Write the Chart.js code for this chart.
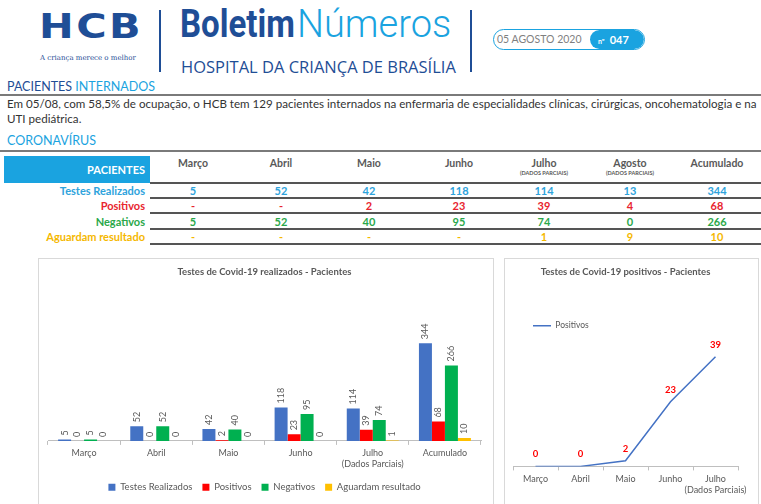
<!DOCTYPE html>
<html lang="pt">
<head>
  <meta charset="UTF-8" />
  <title>Boletim Números HCB</title>
  <script src="https://cdn.jsdelivr.net/npm/chart.js"></script>
  <style>
    body { margin: 0; width: 761px; height: 504px; overflow: hidden; background: #fff; font-family: Lato, 'Open Sans', sans-serif; position: relative; }
    .abs { position: absolute; white-space: nowrap; }
    #logo { left: 39px; top: 6px; font: bold 34px 'DejaVu Sans', sans-serif; color: #1f4e96; letter-spacing: 2px; transform: scaleX(1.22); transform-origin: left; }
    #tagline { left: 40px; top: 54px; font: 7px 'DejaVu Serif', serif; color: #1f4e96; }
    .vline { width: 2px; height: 62px; top: 10px; background: #1f4e96; }
    #boletim { left: 180px; top: 2px; font: bold 38px Roboto, sans-serif; color: #1f4e96; transform: scaleX(0.87); transform-origin: left; }
    #numeros { left: 297px; top: 2px; font: 300 38px Roboto, sans-serif; color: #1aa3e0; }
    #hospital { left: 181px; top: 55px; font: 16.5px 'Open Sans', sans-serif; color: #1f4e96; }
    #pill { left: 493px; top: 29px; width: 150px; height: 19px; border: 1px solid #1aa3e0; border-radius: 11px; overflow: hidden; }
    #pill .date { position: absolute; left: 3px; top: 3px; font: 10.5px Lato, sans-serif; color: #7f7f7f; }
    #pill .num { position: absolute; left: 96px; top: 0; width: 54px; height: 19px; background: #1aa3e0; border-radius: 10px; color: #fff; font: bold 11px Lato, sans-serif; line-height: 19px; text-indent: 8px; }
    #pill .num small { font-size: 7px; margin-right: 5px; }
    .section { left: 7px; font: 12.5px Lato, sans-serif; color: #1aa3e0; }
    .section b { color: #1f4e96; font-weight: normal; }
    .rule { left: 0; width: 761px; height: 2px; background: #7a7a7a; }
    .para { left: 7px; font: 11.6px Lato, sans-serif; color: #333; }
    #thead { left: 4px; top: 156px; width: 146px; height: 27px; background: #1aa3e0; color: #fff; font: bold 11px Lato, sans-serif; text-align: right; line-height: 27px; }
    #thead span { margin-right: 5px; }
    .colhead { top: 157px; font: bold 10.5px Lato, sans-serif; color: #595959; text-align: center; width: 86px; line-height: 13px; }
    .colhead small { display: block; font-size: 5.5px; line-height: 7px; }
    .rowlabel { left: 4px; width: 141px; text-align: right; font: bold 11px Lato, sans-serif; }
    .cell { width: 86px; text-align: center; font: bold 11px Lato, sans-serif; }
    .tline { left: 150px; width: 611px; height: 2px; background: #555; }
    .box { border: 1px solid #d9d9d9; background: #fff; }
  </style>
</head>
<body>
  <div class="abs" id="logo">HCB</div>
  <div class="abs" id="tagline">A criança merece o melhor</div>
  <div class="abs vline" style="left:159px"></div>
  <div class="abs" id="boletim">Boletim</div>
  <div class="abs" id="numeros">Números</div>
  <div class="abs" id="hospital">HOSPITAL DA CRIANÇA DE BRASÍLIA</div>
  <div class="abs vline" style="left:470px"></div>
  <div class="abs" id="pill"><span class="date">05 AGOSTO 2020</span><span class="num"><small>nº</small>047</span></div>

  <div class="abs section" style="top:79px"><b>PACIENTES</b> INTERNADOS</div>
  <div class="abs rule" style="top:94px"></div>
  <div class="abs para" style="top:97px; width:761px; overflow:hidden">Em 05/08, com 58,5% de ocupação, o HCB tem 129 pacientes internados na enfermaria de especialidades clínicas, cirúrgicas, oncohematologia e na</div>
  <div class="abs para" style="top:112px">UTI pediátrica.</div>
  <div class="abs section" style="top:133px">CORONAVÍRUS</div>
  <div class="abs rule" style="top:150px"></div>

  <div class="abs" id="thead"><span>PACIENTES</span></div>
  <div id="table"></div>

  <div class="abs box" style="left:38px; top:258px; width:454px; height:260px"></div>
  <canvas class="abs" id="barChart" width="450" height="244" style="left:40px; top:260px"></canvas>
  <div class="abs box" style="left:504px; top:258px; width:253px; height:260px"></div>
  <canvas class="abs" id="lineChart" width="250" height="244" style="left:506px; top:260px"></canvas>

  <script>
    // table data
    const tableCols = ['Março', 'Abril', 'Maio', 'Junho', 'Julho', 'Agosto', 'Acumulado'];
    const partialCols = ['Julho', 'Agosto'];
    const rowNames = ['Testes Realizados', 'Positivos', 'Negativos', 'Aguardam resultado'];
    const rowColors = ['#2ea3dc', '#e8252f', '#2aa84a', '#f5b800'];
    const testesRow = ['5', '52', '42', '118', '114', '13', '344'];
    const positivosRow = ['-', '-', '2', '23', '39', '4', '68'];
    const negativosRow = ['5', '52', '40', '95', '74', '0', '266'];
    const aguardamRow = ['-', '-', '-', '-', '1', '9', '10'];

    // bar chart data
    const barCategories = [['Março'], ['Abril'], ['Maio'], ['Junho'], ['Julho', '(Dados Parciais)'], ['Acumulado']];
    const testesRealizados = [5, 52, 42, 118, 114, 344];
    const positivos = [0, 0, 2, 23, 39, 68];
    const negativos = [5, 52, 40, 95, 74, 266];
    const aguardam = [0, 0, 0, 0, 1, 10];

    // line chart data
    const lineCategories = [['Março'], ['Abril'], ['Maio'], ['Junho'], ['Julho', '(Dados Parciais)']];
    const positivosMes = [0, 0, 2, 23, 39];

    const colCenters = [193, 281, 369, 459, 544, 630, 717];
    const rowTops = [184, 199, 215, 230];

    const table = document.getElementById('table');
    let html = '';
    tableCols.forEach((c, i) => {
      const sub = partialCols.includes(c) ? '<small>(DADOS PARCIAIS)</small>' : '';
      html += `<div class="abs colhead" style="left:${colCenters[i] - 43}px">${c}${sub}</div>`;
    });
    html += `<div class="abs tline" style="top:182px"></div>`;
    [testesRow, positivosRow, negativosRow, aguardamRow].forEach((row, r) => {
      html += `<div class="abs rowlabel" style="top:${rowTops[r]}px; color:${rowColors[r]}">${rowNames[r]}</div>`;
      row.forEach((v, i) => {
        html += `<div class="abs cell" style="left:${colCenters[i] - 43}px; top:${rowTops[r]}px; color:${rowColors[r]}">${v}</div>`;
      });
      html += `<div class="abs tline" style="top:${rowTops[r] + 13}px"></div>`;
    });
    table.innerHTML = html;

    Chart.defaults.font.family = 'Lato, sans-serif';
    Chart.defaults.color = '#595959';

    const barValueLabels = {
      id: 'barValueLabels',
      afterDatasetsDraw(chart) {
        const ctx = chart.ctx;
        ctx.save();
        ctx.font = '9px Lato, sans-serif';
        ctx.fillStyle = '#595959';
        ctx.textAlign = 'left';
        ctx.textBaseline = 'middle';
        chart.data.datasets.forEach((ds, i) => {
          chart.getDatasetMeta(i).data.forEach((bar, j) => {
            ctx.save();
            ctx.translate(bar.x, bar.y - 4);
            ctx.rotate(-Math.PI / 2);
            ctx.fillText(ds.data[j], 0, 0);
            ctx.restore();
          });
        });
        ctx.restore();
      }
    };

    const pointValueLabels = {
      id: 'pointValueLabels',
      afterDatasetsDraw(chart) {
        const ctx = chart.ctx;
        ctx.save();
        ctx.font = 'bold 9.5px Lato, sans-serif';
        ctx.fillStyle = '#ff0000';
        ctx.textAlign = 'center';
        ctx.textBaseline = 'middle';
        const ds = chart.data.datasets[0];
        chart.getDatasetMeta(0).data.forEach((pt, j) => {
          ctx.fillText(ds.data[j], pt.x, pt.y - 12);
        });
        ctx.restore();
      }
    };

    new Chart(document.getElementById('barChart'), {
      type: 'bar',
      data: {
        labels: barCategories,
        datasets: [
          { label: 'Testes Realizados', data: testesRealizados, backgroundColor: '#4472c4' },
          { label: 'Positivos', data: positivos, backgroundColor: '#ff0000' },
          { label: 'Negativos', data: negativos, backgroundColor: '#00b050' },
          { label: 'Aguardam resultado', data: aguardam, backgroundColor: '#ffc000' }
        ]
      },
      options: {
        responsive: false,
        animation: false,
        devicePixelRatio: 1,
        layout: { padding: { left: 8, right: 9, bottom: 2 } },
        datasets: { bar: { barPercentage: 1, categoryPercentage: 0.72 } },
        plugins: {
          title: {
            display: true,
            text: 'Testes de Covid-19 realizados - Pacientes',
            font: { size: 9.5, weight: 'bold' },
            color: '#595959',
            padding: { top: 6, bottom: 50 }
          },
          legend: {
            position: 'bottom',
            labels: { boxWidth: 7, boxHeight: 7, font: { size: 9.5 }, color: '#595959', padding: 10 }
          },
          tooltip: { enabled: false }
        },
        scales: {
          x: {
            grid: { drawOnChartArea: false, tickLength: 4, color: '#bfbfbf' },
            border: { color: '#bfbfbf' },
            ticks: { font: { size: 9 }, color: '#595959', padding: 3 }
          },
          y: { display: false, min: 0, max: 400 }
        }
      },
      plugins: [barValueLabels]
    });

    new Chart(document.getElementById('lineChart'), {
      type: 'line',
      data: {
        labels: lineCategories,
        datasets: [
          { label: 'Positivos', data: positivosMes, borderColor: '#4472c4', backgroundColor: '#4472c4', borderWidth: 1.5, pointRadius: 0, tension: 0 }
        ]
      },
      options: {
        responsive: false,
        animation: false,
        devicePixelRatio: 1,
        layout: { padding: { left: 7, right: 18, bottom: 6 } },
        plugins: {
          title: {
            display: true,
            text: 'Testes de Covid-19 positivos - Pacientes',
            font: { size: 9.5, weight: 'bold' },
            color: '#595959',
            padding: { top: 6, bottom: 24 }
          },
          legend: {
            position: 'top',
            align: 'start',
            labels: { usePointStyle: true, pointStyle: 'line', pointStyleWidth: 18, font: { size: 8.5 }, color: '#595959', padding: 20 }
          },
          tooltip: { enabled: false }
        },
        scales: {
          x: {
            offset: true,
            grid: { offset: true, drawOnChartArea: false, tickLength: 4, color: '#bfbfbf' },
            border: { color: '#bfbfbf' },
            ticks: { font: { size: 9 }, color: '#595959', padding: 3, maxRotation: 0, minRotation: 0, autoSkip: false }
          },
          y: { display: false, min: 0, max: 45 }
        }
      },
      plugins: [pointValueLabels]
    });
  </script>
</body>
</html>
